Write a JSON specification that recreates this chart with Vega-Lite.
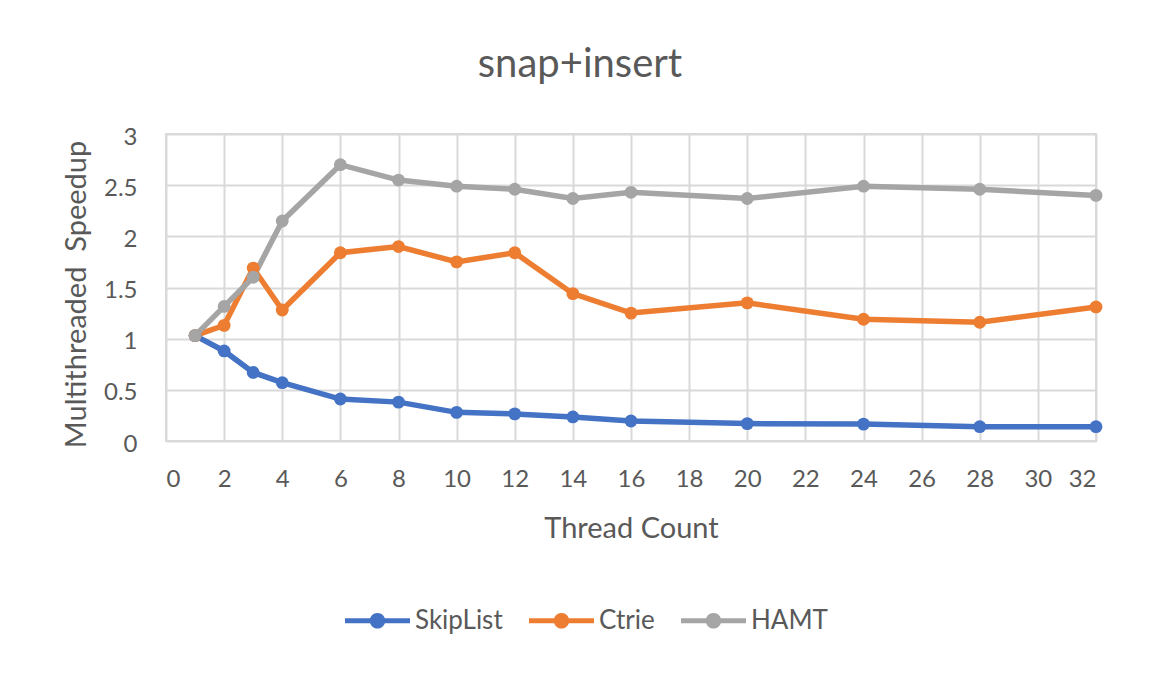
{
  "$schema": "https://vega.github.io/schema/vega-lite/v6.json",
  "width": 930,
  "height": 307,
  "autosize": "none",
  "padding": {"left": 166, "top": 134, "right": 58, "bottom": 232},
  "background": "white",
  "title": {"text": "snap+insert", "fontSize": 40, "font": "Lato", "fontWeight": "normal", "color": "#595959", "anchor": "middle", "dx": -51, "offset": 40},
  "data": {"values": [
    {"threads": 1, "series": "SkipList", "speedup": 1.03},
    {"threads": 2, "series": "SkipList", "speedup": 0.88},
    {"threads": 3, "series": "SkipList", "speedup": 0.67},
    {"threads": 4, "series": "SkipList", "speedup": 0.57},
    {"threads": 6, "series": "SkipList", "speedup": 0.41},
    {"threads": 8, "series": "SkipList", "speedup": 0.38},
    {"threads": 10, "series": "SkipList", "speedup": 0.28},
    {"threads": 12, "series": "SkipList", "speedup": 0.265},
    {"threads": 14, "series": "SkipList", "speedup": 0.235},
    {"threads": 16, "series": "SkipList", "speedup": 0.195},
    {"threads": 20, "series": "SkipList", "speedup": 0.17},
    {"threads": 24, "series": "SkipList", "speedup": 0.165},
    {"threads": 28, "series": "SkipList", "speedup": 0.14},
    {"threads": 32, "series": "SkipList", "speedup": 0.14},
    {"threads": 1, "series": "Ctrie", "speedup": 1.03},
    {"threads": 2, "series": "Ctrie", "speedup": 1.13},
    {"threads": 3, "series": "Ctrie", "speedup": 1.69},
    {"threads": 4, "series": "Ctrie", "speedup": 1.28},
    {"threads": 6, "series": "Ctrie", "speedup": 1.84},
    {"threads": 8, "series": "Ctrie", "speedup": 1.9},
    {"threads": 10, "series": "Ctrie", "speedup": 1.75},
    {"threads": 12, "series": "Ctrie", "speedup": 1.84},
    {"threads": 14, "series": "Ctrie", "speedup": 1.44},
    {"threads": 16, "series": "Ctrie", "speedup": 1.25},
    {"threads": 20, "series": "Ctrie", "speedup": 1.35},
    {"threads": 24, "series": "Ctrie", "speedup": 1.19},
    {"threads": 28, "series": "Ctrie", "speedup": 1.16},
    {"threads": 32, "series": "Ctrie", "speedup": 1.31},
    {"threads": 1, "series": "HAMT", "speedup": 1.03},
    {"threads": 2, "series": "HAMT", "speedup": 1.315},
    {"threads": 3, "series": "HAMT", "speedup": 1.6},
    {"threads": 4, "series": "HAMT", "speedup": 2.15},
    {"threads": 6, "series": "HAMT", "speedup": 2.7},
    {"threads": 8, "series": "HAMT", "speedup": 2.55},
    {"threads": 10, "series": "HAMT", "speedup": 2.49},
    {"threads": 12, "series": "HAMT", "speedup": 2.46},
    {"threads": 14, "series": "HAMT", "speedup": 2.37},
    {"threads": 16, "series": "HAMT", "speedup": 2.43},
    {"threads": 20, "series": "HAMT", "speedup": 2.37},
    {"threads": 24, "series": "HAMT", "speedup": 2.49},
    {"threads": 28, "series": "HAMT", "speedup": 2.46},
    {"threads": 32, "series": "HAMT", "speedup": 2.4}
  ]},
  "encoding": {
    "x": {"field": "threads", "type": "quantitative", "title": "Thread Count",
      "scale": {"domain": [0, 32], "nice": false},
      "axis": {"values": [0,2,4,6,8,10,12,14,16,18,20,22,24,26,28,30,32], "labelPadding": 26, "titlePadding": 23}},
    "y": {"field": "speedup", "type": "quantitative", "title": "Multithreaded\u00a0 Speedup",
      "scale": {"domain": [0, 3], "nice": false},
      "axis": {"values": [0,0.5,1,1.5,2,2.5,3], "format": ".1~f", "labelPadding": 29, "labelOffset": 3, "titlePadding": 12, "titleY": 160}},
    "color": {"field": "series", "type": "nominal",
      "scale": {"domain": ["SkipList", "Ctrie", "HAMT"], "range": ["#4472C4", "#ED7D31", "#A5A5A5"]},
      "legend": {"orient": "none", "legendX": 179, "legendY": 454, "direction": "horizontal", "title": null,
        "labelFontSize": 26, "labelColor": "#595959", "labelFont": "Lato",
        "symbolSize": 4225, "symbolType": "M-1,-0.077H1V0.077H-1Z M0.24,0A0.24,0.24 0 1,1 -0.24,0A0.24,0.24 0 1,1 0.24,0Z",
        "symbolStrokeWidth": 0, "labelOffset": 5, "columnPadding": 26}}
  },
  "layer": [
    {"mark": {"type": "line", "strokeWidth": 5.5}},
    {"mark": {"type": "point", "filled": true, "size": 165, "opacity": 1}}
  ],
  "config": {
    "view": {"stroke": "#D9D9D9", "strokeWidth": 2},
    "axis": {"grid": true, "gridColor": "#D9D9D9", "gridWidth": 2, "domain": false, "ticks": false,
      "labelFont": "Lato", "labelFontSize": 24, "labelColor": "#595959",
      "titleFont": "Lato", "titleFontSize": 29, "titleFontWeight": "normal", "titleColor": "#595959"}
  }
}
